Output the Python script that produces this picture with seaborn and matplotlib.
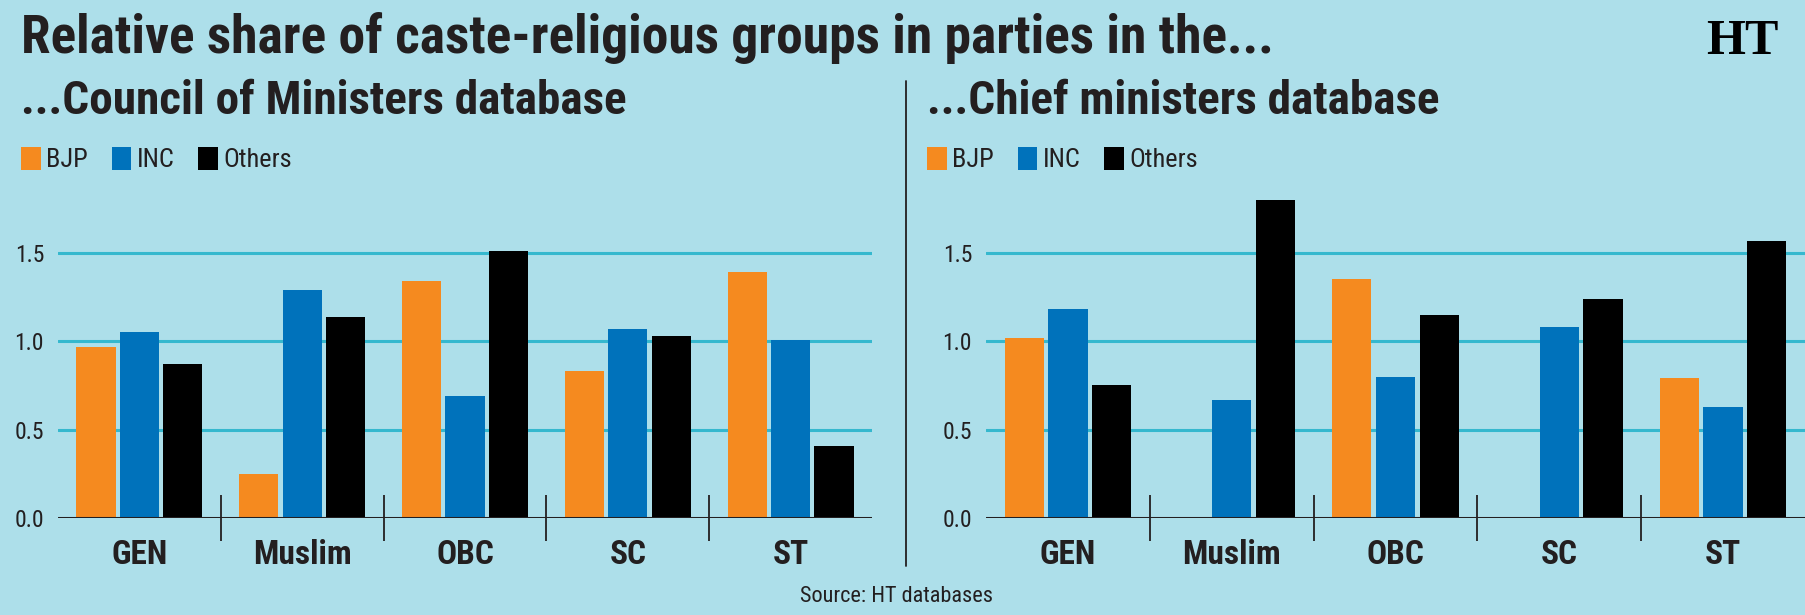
import numpy as np
import pandas as pd
import matplotlib
matplotlib.use("Agg")
import matplotlib.pyplot as plt
import matplotlib.patches as mpatches
from matplotlib.lines import Line2D
from matplotlib import font_manager
import seaborn as sns

# %% — Data
groups  = ["GEN", "Muslim", "OBC", "SC", "ST"]
parties = ["BJP", "INC", "Others"]

# Council of Ministers database
com_bjp    = [0.97, 0.25, 1.34, 0.83, 1.39]
com_inc    = [1.05, 1.29, 0.69, 1.07, 1.01]
com_others = [0.87, 1.14, 1.51, 1.03, 0.41]

# Chief ministers database (no BJP bar for Muslim / SC)
cm_bjp    = [1.02, 0.0, 1.35, 0.0, 0.79]
cm_inc    = [1.18, 0.67, 0.80, 1.08, 0.63]
cm_others = [0.75, 1.80, 1.15, 1.24, 1.57]

yticks = [0.0, 0.5, 1.0, 1.5]

# %% — Styling
BG     = "#ADDFEA"
GRID   = "#35B8CE"
INK    = "#231F20"
colors = {"BJP": "#F58A1F", "INC": "#0072BB", "Others": "#000000"}

names = {f.name for f in font_manager.fontManager.ttflist}
narrow = next((n for n in ["Roboto Condensed", "Liberation Sans Narrow",
                           "DejaVu Sans Condensed", "Open Sans Condensed"] if n in names),
              "Liberation Sans")

sns.set_style("white")
plt.rcParams["font.family"] = [narrow, "DejaVu Sans"]


def long_form(bjp, inc, others):
    return pd.DataFrame({
        "group": groups * 3,
        "party": ["BJP"] * 5 + ["INC"] * 5 + ["Others"] * 5,
        "value": bjp + inc + others,
    })


W, H = 1805, 615
fig = plt.figure(figsize=(W / 100, H / 100), dpi=100, facecolor=BG)

y0, unit, ymax = 518, 176.7, 1.9
panels = [
    (58,  872,  long_form(com_bjp, com_inc, com_others),
     "...Council of Ministers database", 21),
    (986, 1805, long_form(cm_bjp, cm_inc, cm_others),
     "...Chief ministers database", 927),
]

for x_left, x_right, df, subtitle, tx in panels:
    ax = fig.add_axes([x_left / W, (H - y0) / H,
                       (x_right - x_left) / W, ymax * unit / H])
    ax.set_facecolor(BG)
    sns.barplot(data=df, x="group", y="value", hue="party",
                order=groups, hue_order=parties, palette=colors,
                width=0.8, gap=0.1, saturation=1, linewidth=0,
                edgecolor="none", ax=ax, legend=False)
    ax.set_xlim(-0.5, 4.5)
    ax.set_ylim(0, ymax)
    for s in ax.spines.values():
        s.set_visible(False)
    ax.set_yticks(yticks)
    ax.set_yticklabels([f"{v:.1f}" for v in yticks], fontsize=17, color=INK)
    ax.tick_params(axis="y", length=0, pad=10)
    for v in yticks[1:]:
        ax.axhline(v, color=GRID, lw=2.2, zorder=0)
    ax.axhline(0, color=INK, lw=2.2, zorder=3)
    ax.set_xticks(range(len(groups)))
    ax.set_xticklabels(groups, fontsize=24, fontweight="bold", color=INK)
    ax.tick_params(axis="x", which="major", length=0, pad=15)
    ax.set_xticks([0.5, 1.5, 2.5, 3.5], minor=True)
    ax.tick_params(axis="x", which="minor", bottom=True, direction="inout",
                   length=33, width=1.3, color=INK)
    ax.set_xlabel("")
    ax.set_ylabel("")

    fig.text(tx / W, 1 - 79 / H, subtitle, fontsize=34, fontweight="bold",
             color=INK, va="top", ha="left")
    handles = [mpatches.Patch(facecolor=colors[p], edgecolor="none", label=p)
               for p in parties]
    ax.legend(handles=handles, loc="upper left",
              bbox_to_anchor=(tx / W, 1 - 147 / H), bbox_transform=fig.transFigure,
              ncol=3, frameon=False, fontsize=19, borderpad=0, borderaxespad=0,
              handlelength=0.75, handleheight=0.95, handletextpad=0.2,
              columnspacing=0.9, labelcolor=INK)

fig.text(21 / W, 1 - 12 / H, "Relative share of caste-religious groups in parties in the...",
         fontsize=38.5, fontweight="bold", color=INK, va="top", ha="left")
fig.text(1742 / W, 1 - 42 / H, "HT", fontsize=36, fontweight="bold",
         family=["Liberation Serif", "DejaVu Serif"], color="#000000",
         ha="center", va="center")
fig.add_artist(Line2D([906 / W, 906 / W], [1 - 81 / H, 1 - 566 / H],
                      transform=fig.transFigure, color=INK, lw=1.3))
fig.text(896 / W, 1 - 597 / H, "Source: HT databases", fontsize=16,
         color=INK, ha="center", va="center")

fig.savefig("out.png", dpi=100, facecolor=BG)
